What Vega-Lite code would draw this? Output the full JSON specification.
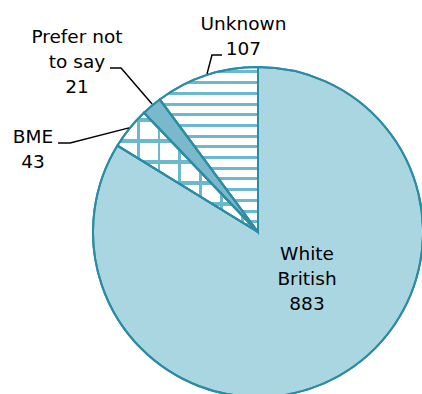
{
  "$schema": "https://vega.github.io/schema/vega-lite/v6.json",
  "autosize": {"type": "none"},
  "width": 330,
  "height": 330,
  "padding": {"left": 93, "top": 67, "right": 0, "bottom": 0},
  "background": "white",
  "config": {"view": {"stroke": null}},
  "datasets": {
    "ethnicity": [
      {"group": "White British", "count": 883},
      {"group": "BME", "count": 43},
      {"group": "Prefer not to say", "count": 21},
      {"group": "Unknown", "count": 107}
    ],
    "captions": [
      {"group": "White British", "caption": "White|British", "cx": 0.297, "cy": -0.133},
      {"group": "BME", "caption": "BME", "cx": -1.364, "cy": 0.576},
      {"group": "Prefer not to say", "caption": "Prefer not|to say", "cx": -1.097, "cy": 1.182},
      {"group": "Unknown", "caption": "Unknown", "cx": -0.088, "cy": 1.261}
    ],
    "leaders": [
      {"group": "Unknown", "step": 1, "lx": -0.309, "ly": 0.958},
      {"group": "Unknown", "step": 2, "lx": -0.279, "ly": 1.073},
      {"group": "Unknown", "step": 3, "lx": -0.218, "ly": 1.073},
      {"group": "Prefer not to say", "step": 1, "lx": -0.897, "ly": 0.994},
      {"group": "Prefer not to say", "step": 2, "lx": -0.830, "ly": 0.994},
      {"group": "Prefer not to say", "step": 3, "lx": -0.642, "ly": 0.776},
      {"group": "BME", "step": 1, "lx": -1.212, "ly": 0.539},
      {"group": "BME", "step": 2, "lx": -1.139, "ly": 0.539},
      {"group": "BME", "step": 3, "lx": -0.782, "ly": 0.631}
    ]
  },
  "layer": [
    {
      "data": {"name": "ethnicity"},
      "mark": {"type": "arc", "outerRadius": 165, "stroke": "#2b8ca4", "strokeWidth": 2},
      "encoding": {
        "theta": {"field": "count", "type": "quantitative", "stack": true},
        "fill": {
          "condition": [
            {"test": "datum.group === 'White British'", "value": "#a9d6e1"},
            {"test": "datum.group === 'Prefer not to say'", "value": "#79b9cb"},
            {"test": "datum.group === 'Unknown'", "value": {
              "gradient": "linear", "x1": 0, "y1": 0, "x2": 0, "y2": 1,
              "stops": [
                {"offset": 0, "color": "white"},
                {"offset": 0.021, "color": "white"}, {"offset": 0.021, "color": "#6cb8cc"}, {"offset": 0.039, "color": "#6cb8cc"}, {"offset": 0.039, "color": "white"},
                {"offset": 0.086, "color": "white"}, {"offset": 0.086, "color": "#6cb8cc"}, {"offset": 0.104, "color": "#6cb8cc"}, {"offset": 0.104, "color": "white"},
                {"offset": 0.151, "color": "white"}, {"offset": 0.151, "color": "#6cb8cc"}, {"offset": 0.169, "color": "#6cb8cc"}, {"offset": 0.169, "color": "white"},
                {"offset": 0.216, "color": "white"}, {"offset": 0.216, "color": "#6cb8cc"}, {"offset": 0.234, "color": "#6cb8cc"}, {"offset": 0.234, "color": "white"},
                {"offset": 0.280, "color": "white"}, {"offset": 0.280, "color": "#6cb8cc"}, {"offset": 0.298, "color": "#6cb8cc"}, {"offset": 0.298, "color": "white"},
                {"offset": 0.345, "color": "white"}, {"offset": 0.345, "color": "#6cb8cc"}, {"offset": 0.363, "color": "#6cb8cc"}, {"offset": 0.363, "color": "white"},
                {"offset": 0.410, "color": "white"}, {"offset": 0.410, "color": "#6cb8cc"}, {"offset": 0.428, "color": "#6cb8cc"}, {"offset": 0.428, "color": "white"},
                {"offset": 0.475, "color": "white"}, {"offset": 0.475, "color": "#6cb8cc"}, {"offset": 0.493, "color": "#6cb8cc"}, {"offset": 0.493, "color": "white"},
                {"offset": 0.540, "color": "white"}, {"offset": 0.540, "color": "#6cb8cc"}, {"offset": 0.558, "color": "#6cb8cc"}, {"offset": 0.558, "color": "white"},
                {"offset": 0.605, "color": "white"}, {"offset": 0.605, "color": "#6cb8cc"}, {"offset": 0.623, "color": "#6cb8cc"}, {"offset": 0.623, "color": "white"},
                {"offset": 0.669, "color": "white"}, {"offset": 0.669, "color": "#6cb8cc"}, {"offset": 0.687, "color": "#6cb8cc"}, {"offset": 0.687, "color": "white"},
                {"offset": 0.734, "color": "white"}, {"offset": 0.734, "color": "#6cb8cc"}, {"offset": 0.752, "color": "#6cb8cc"}, {"offset": 0.752, "color": "white"},
                {"offset": 0.799, "color": "white"}, {"offset": 0.799, "color": "#6cb8cc"}, {"offset": 0.817, "color": "#6cb8cc"}, {"offset": 0.817, "color": "white"},
                {"offset": 0.864, "color": "white"}, {"offset": 0.864, "color": "#6cb8cc"}, {"offset": 0.882, "color": "#6cb8cc"}, {"offset": 0.882, "color": "white"},
                {"offset": 0.929, "color": "white"}, {"offset": 0.929, "color": "#6cb8cc"}, {"offset": 0.947, "color": "#6cb8cc"}, {"offset": 0.947, "color": "white"},
                {"offset": 1, "color": "white"}
              ]
            }},
            {"test": "datum.group === 'BME'", "value": {
              "gradient": "linear", "x1": 0, "y1": 0, "x2": 0, "y2": 1,
              "stops": [
                {"offset": 0, "color": "white"},
                {"offset": 0.048, "color": "white"}, {"offset": 0.048, "color": "#6cb8cc"}, {"offset": 0.074, "color": "#6cb8cc"}, {"offset": 0.074, "color": "white"},
                {"offset": 0.224, "color": "white"}, {"offset": 0.224, "color": "#6cb8cc"}, {"offset": 0.250, "color": "#6cb8cc"}, {"offset": 0.250, "color": "white"},
                {"offset": 0.400, "color": "white"}, {"offset": 0.400, "color": "#6cb8cc"}, {"offset": 0.426, "color": "#6cb8cc"}, {"offset": 0.426, "color": "white"},
                {"offset": 0.576, "color": "white"}, {"offset": 0.576, "color": "#6cb8cc"}, {"offset": 0.602, "color": "#6cb8cc"}, {"offset": 0.602, "color": "white"},
                {"offset": 0.752, "color": "white"}, {"offset": 0.752, "color": "#6cb8cc"}, {"offset": 0.778, "color": "#6cb8cc"}, {"offset": 0.778, "color": "white"},
                {"offset": 0.928, "color": "white"}, {"offset": 0.928, "color": "#6cb8cc"}, {"offset": 0.954, "color": "#6cb8cc"}, {"offset": 0.954, "color": "white"},
                {"offset": 1, "color": "white"}
              ]
            }}
          ],
          "value": "white"
        }
      }
    },
    {
      "data": {"name": "ethnicity"},
      "mark": {"type": "arc", "outerRadius": 165, "strokeWidth": 0},
      "encoding": {
        "theta": {"field": "count", "type": "quantitative", "stack": true},
        "fill": {
          "condition": {"test": "datum.group === 'BME'", "value": {
            "gradient": "linear", "x1": 0, "y1": 0, "x2": 1, "y2": 0,
            "stops": [
              {"offset": 0, "color": "rgba(108,184,204,0)"},
              {"offset": 0.136, "color": "rgba(108,184,204,0)"}, {"offset": 0.136, "color": "#6cb8cc"}, {"offset": 0.157, "color": "#6cb8cc"}, {"offset": 0.157, "color": "rgba(108,184,204,0)"},
              {"offset": 0.285, "color": "rgba(108,184,204,0)"}, {"offset": 0.285, "color": "#6cb8cc"}, {"offset": 0.306, "color": "#6cb8cc"}, {"offset": 0.306, "color": "rgba(108,184,204,0)"},
              {"offset": 0.434, "color": "rgba(108,184,204,0)"}, {"offset": 0.434, "color": "#6cb8cc"}, {"offset": 0.455, "color": "#6cb8cc"}, {"offset": 0.455, "color": "rgba(108,184,204,0)"},
              {"offset": 0.583, "color": "rgba(108,184,204,0)"}, {"offset": 0.583, "color": "#6cb8cc"}, {"offset": 0.604, "color": "#6cb8cc"}, {"offset": 0.604, "color": "rgba(108,184,204,0)"},
              {"offset": 0.733, "color": "rgba(108,184,204,0)"}, {"offset": 0.733, "color": "#6cb8cc"}, {"offset": 0.754, "color": "#6cb8cc"}, {"offset": 0.754, "color": "rgba(108,184,204,0)"},
              {"offset": 0.882, "color": "rgba(108,184,204,0)"}, {"offset": 0.882, "color": "#6cb8cc"}, {"offset": 0.903, "color": "#6cb8cc"}, {"offset": 0.903, "color": "rgba(108,184,204,0)"},
              {"offset": 1, "color": "rgba(108,184,204,0)"}
            ]
          }},
          "value": null
        }
      }
    },
    {
      "data": {"name": "ethnicity"},
      "mark": {"type": "arc", "outerRadius": 165, "fill": null, "stroke": "#2b8ca4", "strokeWidth": 2},
      "encoding": {
        "theta": {"field": "count", "type": "quantitative", "stack": true}
      }
    },
    {
      "data": {"name": "leaders"},
      "mark": {"type": "line", "color": "black", "strokeWidth": 1.5},
      "encoding": {
        "x": {"field": "lx", "type": "quantitative", "scale": {"domain": [-1, 1], "nice": false, "zero": false}, "axis": null},
        "y": {"field": "ly", "type": "quantitative", "scale": {"domain": [-1, 1], "nice": false, "zero": false}, "axis": null},
        "detail": {"field": "group"},
        "order": {"field": "step"}
      }
    },
    {
      "data": {"name": "captions"},
      "transform": [
        {"lookup": "group", "from": {"data": {"name": "ethnicity"}, "key": "group", "fields": ["count"]}},
        {"calculate": "datum.caption + '|' + datum.count", "as": "label"}
      ],
      "mark": {"type": "text", "font": "DejaVu Sans", "fontSize": 18.5, "lineHeight": 25, "lineBreak": "|", "align": "center", "baseline": "middle", "color": "black"},
      "encoding": {
        "x": {"field": "cx", "type": "quantitative", "scale": {"domain": [-1, 1], "nice": false, "zero": false}, "axis": null},
        "y": {"field": "cy", "type": "quantitative", "scale": {"domain": [-1, 1], "nice": false, "zero": false}, "axis": null},
        "text": {"field": "label"}
      }
    }
  ]
}
